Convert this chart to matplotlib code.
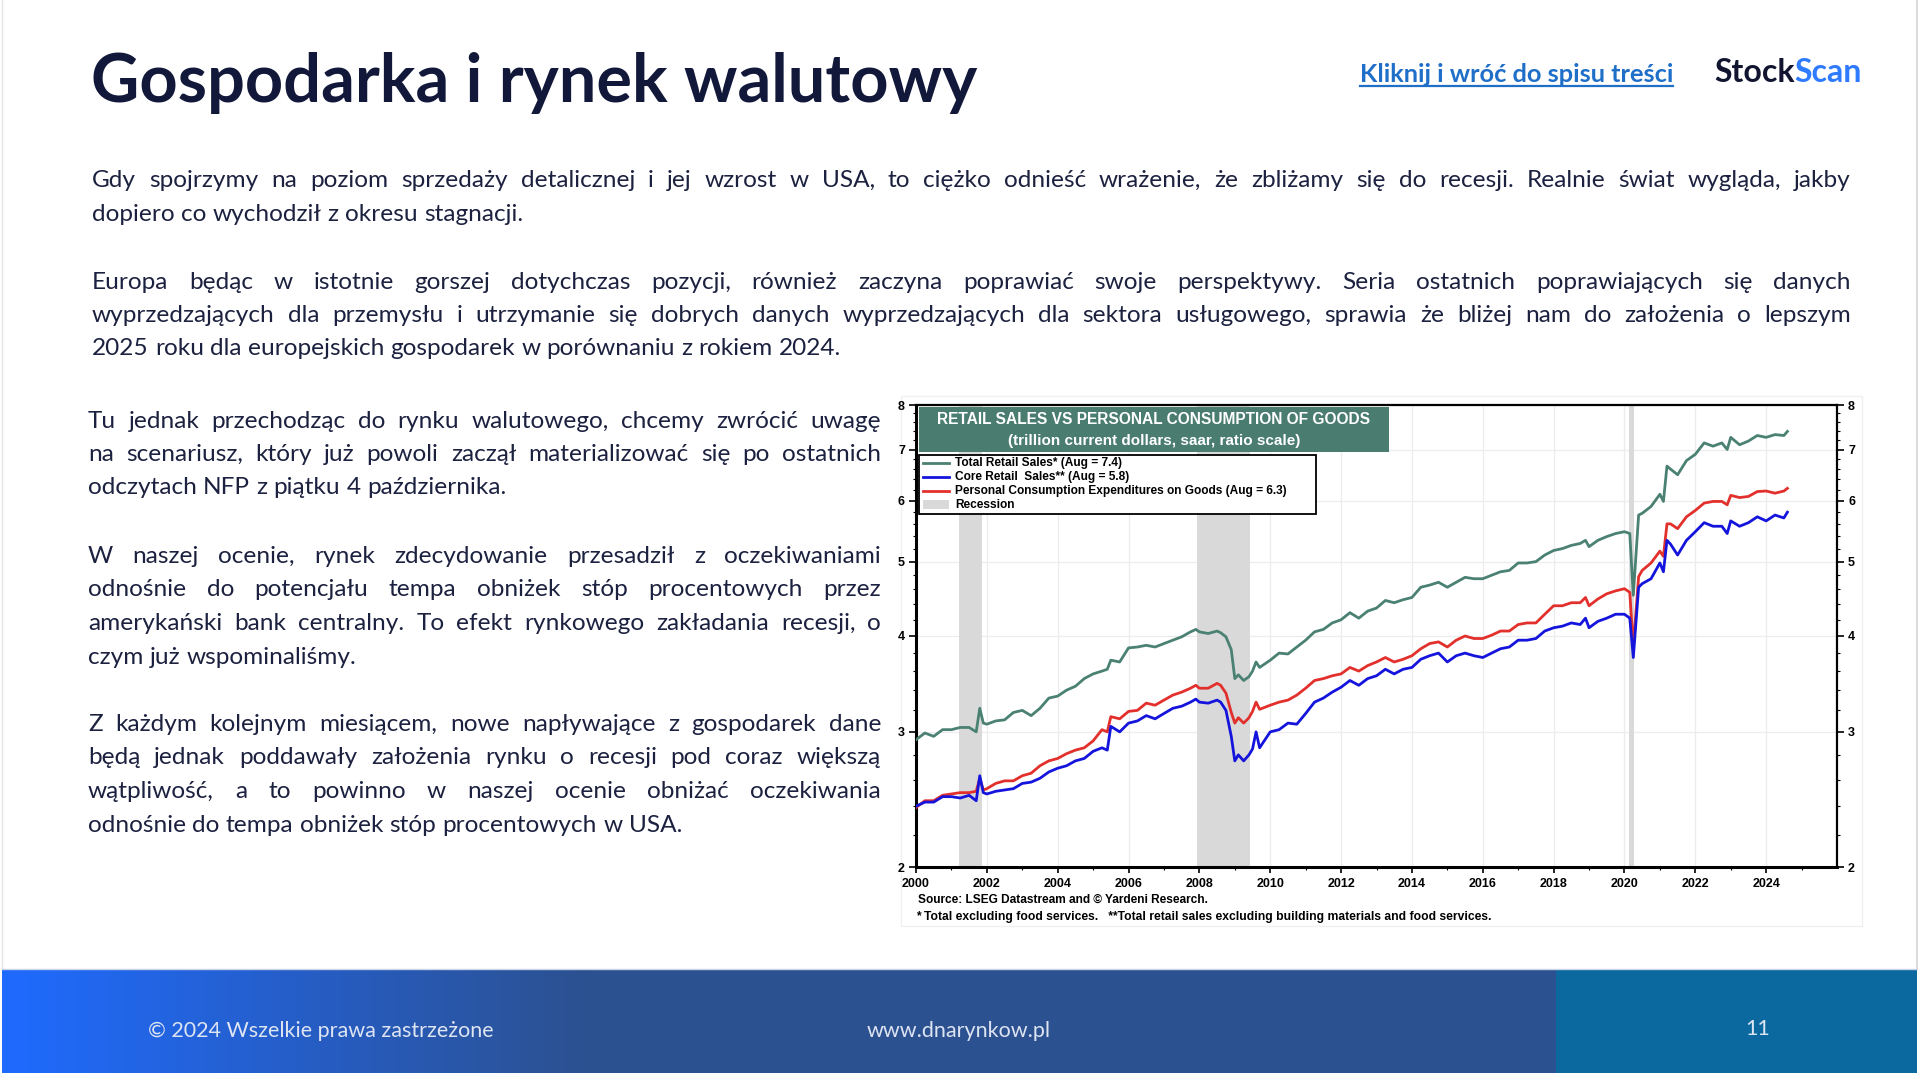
import numpy as np
import matplotlib
matplotlib.use("Agg")
import matplotlib.pyplot as plt
from matplotlib.patches import Rectangle
from matplotlib.lines import Line2D
from matplotlib.ticker import FixedLocator, NullFormatter, FuncFormatter

# --- chart data (trillion $, ratio scale) ---
dates = [2000.0, 2000.25, 2000.5, 2000.75, 2001.0, 2001.25, 2001.5, 2001.7, 2001.8, 2001.9,
         2002.0, 2002.25, 2002.5, 2002.75, 2003.0, 2003.25, 2003.5, 2003.75, 2004.0, 2004.25,
         2004.5, 2004.75, 2005.0, 2005.25, 2005.4, 2005.5, 2005.75, 2006.0, 2006.25, 2006.5,
         2006.75, 2007.0, 2007.25, 2007.5, 2007.75, 2007.9, 2008.0, 2008.25, 2008.5, 2008.6,
         2008.75, 2008.9, 2009.0, 2009.1, 2009.25, 2009.4, 2009.5, 2009.6, 2009.7, 2010.0,
         2010.25, 2010.5, 2010.75, 2011.0, 2011.25, 2011.5, 2011.75, 2012.0, 2012.25, 2012.5,
         2012.75, 2013.0, 2013.25, 2013.5, 2013.75, 2014.0, 2014.25, 2014.5, 2014.75, 2015.0,
         2015.25, 2015.5, 2015.75, 2016.0, 2016.25, 2016.5, 2016.75, 2017.0, 2017.25, 2017.5,
         2017.75, 2018.0, 2018.25, 2018.5, 2018.75, 2018.9, 2019.0, 2019.25, 2019.5, 2019.75,
         2020.0, 2020.15, 2020.25, 2020.4, 2020.5, 2020.75, 2021.0, 2021.1, 2021.2, 2021.3,
         2021.5, 2021.75, 2022.0, 2022.25, 2022.5, 2022.75, 2022.9, 2023.0, 2023.25, 2023.5,
         2023.75, 2024.0, 2024.25, 2024.5, 2024.6]

total_retail = [2.93, 2.99, 2.96, 3.02, 3.02, 3.04, 3.04, 3.00, 3.22, 3.08,
                3.07, 3.10, 3.11, 3.18, 3.20, 3.15, 3.22, 3.32, 3.34, 3.40,
                3.44, 3.52, 3.57, 3.60, 3.62, 3.72, 3.70, 3.86, 3.87, 3.89,
                3.87, 3.91, 3.95, 3.99, 4.05, 4.08, 4.05, 4.03, 4.06, 4.04,
                3.99, 3.84, 3.52, 3.56, 3.50, 3.54, 3.60, 3.70, 3.64, 3.72,
                3.80, 3.79, 3.87, 3.95, 4.05, 4.08, 4.16, 4.20, 4.29, 4.22,
                4.31, 4.35, 4.45, 4.42, 4.46, 4.49, 4.63, 4.66, 4.70, 4.63,
                4.70, 4.77, 4.75, 4.75, 4.80, 4.85, 4.87, 4.98, 4.98, 5.00,
                5.10, 5.17, 5.20, 5.25, 5.28, 5.33, 5.23, 5.33, 5.39, 5.44,
                5.47, 5.44, 4.52, 5.75, 5.78, 5.90, 6.12, 5.99, 6.66, 6.60,
                6.49, 6.77, 6.90, 7.14, 7.07, 7.14, 7.00, 7.26, 7.10, 7.18,
                7.30, 7.26, 7.32, 7.30, 7.39]

core_retail = [2.40, 2.43, 2.43, 2.47, 2.47, 2.46, 2.48, 2.44, 2.63, 2.50,
               2.49, 2.51, 2.52, 2.53, 2.57, 2.58, 2.61, 2.66, 2.69, 2.71,
               2.75, 2.77, 2.83, 2.86, 2.84, 3.05, 3.00, 3.08, 3.10, 3.15,
               3.12, 3.17, 3.22, 3.24, 3.28, 3.31, 3.28, 3.27, 3.30, 3.28,
               3.20, 2.96, 2.75, 2.80, 2.75, 2.80, 2.85, 3.00, 2.86, 3.00,
               3.02, 3.08, 3.07, 3.17, 3.28, 3.32, 3.38, 3.43, 3.50, 3.45,
               3.52, 3.55, 3.62, 3.57, 3.62, 3.64, 3.73, 3.77, 3.80, 3.70,
               3.77, 3.80, 3.77, 3.75, 3.80, 3.85, 3.87, 3.95, 3.95, 3.97,
               4.06, 4.10, 4.12, 4.16, 4.14, 4.22, 4.10, 4.18, 4.22, 4.27,
               4.27, 4.22, 3.75, 4.63, 4.68, 4.75, 4.98, 4.85, 5.33, 5.27,
               5.10, 5.33, 5.47, 5.62, 5.56, 5.56, 5.44, 5.65, 5.56, 5.62,
               5.72, 5.65, 5.75, 5.70, 5.80]

pce_goods = [2.39, 2.44, 2.44, 2.48, 2.49, 2.50, 2.50, 2.51, 2.61, 2.52,
             2.53, 2.57, 2.59, 2.59, 2.63, 2.65, 2.71, 2.75, 2.77, 2.81,
             2.84, 2.86, 2.92, 3.02, 3.00, 3.14, 3.12, 3.19, 3.20, 3.27,
             3.25, 3.30, 3.35, 3.38, 3.42, 3.45, 3.42, 3.42, 3.47, 3.45,
             3.37, 3.18, 3.08, 3.13, 3.08, 3.13, 3.19, 3.28, 3.21, 3.25,
             3.28, 3.30, 3.35, 3.42, 3.50, 3.52, 3.55, 3.57, 3.64, 3.60,
             3.66, 3.70, 3.75, 3.70, 3.73, 3.77, 3.85, 3.91, 3.93, 3.87,
             3.95, 4.00, 3.97, 3.97, 4.01, 4.06, 4.06, 4.14, 4.16, 4.16,
             4.27, 4.38, 4.38, 4.42, 4.42, 4.49, 4.38, 4.47, 4.54, 4.58,
             4.61, 4.56, 3.87, 4.78, 4.87, 4.98, 5.16, 5.08, 5.60, 5.60,
             5.52, 5.72, 5.83, 5.96, 5.99, 5.99, 5.93, 6.10, 6.06, 6.08,
             6.17, 6.18, 6.14, 6.18, 6.23]

rec_start = [2001.2, 2007.92]
rec_end = [2001.85, 2009.42]
covid_rec = [2020.13, 2020.27]

year_ticks = list(range(2000, 2026, 2))
value_ticks = [2, 3, 4, 5, 6, 7, 8]

legend_labels = ["Total Retail Sales* (Aug = 7.4)",
                 "Core Retail  Sales** (Aug = 5.8)",
                 "Personal Consumption Expenditures on Goods (Aug = 6.3)",
                 "Recession"]

# --- page text ---
title = "Gospodarka i rynek walutowy"
intro1 = ["Gdy spojrzymy na poziom sprzedaży detalicznej i jej wzrost w USA, to ciężko odnieść wrażenie, że zbliżamy się do recesji. Realnie świat wygląda, jakby",
          "dopiero co wychodził z okresu stagnacji."]
intro2 = ["Europa będąc w istotnie gorszej dotychczas pozycji, również zaczyna poprawiać swoje perspektywy. Seria ostatnich poprawiających się danych",
          "wyprzedzających dla przemysłu i utrzymanie się dobrych danych wyprzedzających dla sektora usługowego, sprawia że bliżej nam do założenia o lepszym",
          "2025 roku dla europejskich gospodarek w porównaniu z rokiem 2024."]
col1 = ["Tu jednak przechodząc do rynku walutowego, chcemy zwrócić uwagę",
        "na scenariusz, który już powoli zaczął materializować się po ostatnich",
        "odczytach NFP z piątku 4 października."]
col2 = ["W naszej ocenie, rynek zdecydowanie przesadził z oczekiwaniami",
        "odnośnie do potencjału tempa obniżek stóp procentowych przez",
        "amerykański bank centralny. To efekt rynkowego zakładania recesji, o",
        "czym już wspominaliśmy."]
col3 = ["Z każdym kolejnym miesiącem, nowe napływające z gospodarek dane",
        "będą jednak poddawały założenia rynku o recesji pod coraz większą",
        "wątpliwość, a to powinno w naszej ocenie obniżać oczekiwania",
        "odnośnie do tempa obniżek stóp procentowych w USA."]

NAVY = "#121839"
BODY = "#1c2140"
GREEN = "#4a8172"
BLUE = "#1414dc"
RED = "#e2302c"
GREY = "#d9d9d9"
FONT = "Lato"
CHART_FONT = "Liberation Sans"
BODY_SIZE = 17.6

W, H = 1920, 1073
fig = plt.figure(figsize=(W / 100, H / 100), dpi=100)
fig.patch.set_facecolor("white")

bg = fig.add_axes([0, 0, 1, 1])
bg.set_xlim(0, W)
bg.set_ylim(H, 0)
bg.axis("off")
renderer = fig.canvas.get_renderer()

# slide edges
bg.plot([1917, 1917], [0, 968], color="#d4d4d4", lw=1.2)
bg.plot([2, 2], [0, 968], color="#e4e4e4", lw=1.0)

# --- header ---
bg.text(91, 102, title, fontsize=48, fontweight="bold", color=NAVY, family=FONT, va="baseline")
link = bg.text(1360, 82, "Kliknij i wróć do spisu treści", fontsize=18.3, fontweight="bold",
               color="#1f6fc8", family=FONT, va="baseline")
lw_ = link.get_window_extent(renderer).width
bg.plot([1360, 1360 + lw_], [86, 86], color="#1f6fc8", lw=1.6)
st = bg.text(1714, 82, "Stock", fontsize=23, fontweight="bold", color="#111530", family=FONT, va="baseline")
sw = st.get_window_extent(renderer).width
bg.text(1714 + sw, 82, "Scan", fontsize=23, fontweight="bold", color="#2f7bff", family=FONT, va="baseline")


def text_lines(lines, x0, x1, y0, step, size):
    probe = bg.text(0, 0, "x x", fontsize=size, family=FONT)
    probe2 = bg.text(0, 0, "xx", fontsize=size, family=FONT)
    space = probe.get_window_extent(renderer).width - probe2.get_window_extent(renderer).width
    probe.remove()
    probe2.remove()
    for i, line in enumerate(lines):
        y = y0 + i * step
        words = line.split(" ")
        arts = [bg.text(x0, y, w, fontsize=size, color=BODY, family=FONT, va="baseline") for w in words]
        widths = [a.get_window_extent(renderer).width for a in arts]
        if i == len(lines) - 1 or len(words) == 1:
            gap = space
        else:
            gap = (x1 - x0 - sum(widths)) / (len(words) - 1)
        x = x0
        for a, w in zip(arts, widths):
            a.set_x(x)
            x += w + gap


text_lines(intro1, 92, 1851, 187, 34, BODY_SIZE)
text_lines(intro2, 92, 1851, 289, 33.2, BODY_SIZE)
text_lines(col1, 88, 881, 428, 33.1, BODY_SIZE)
text_lines(col2, 88, 881, 563, 33.5, BODY_SIZE)
text_lines(col3, 88, 881, 731, 33.5, BODY_SIZE)

# --- footer ---
bg.add_patch(Rectangle((2, 969), 1915, 104, facecolor="#2c5190", edgecolor="none"))
grad = np.linspace(0, 1, 256)
c0 = np.array([0x1f, 0x6b, 0xff]) / 255
c1 = np.array([0x2c, 0x51, 0x90]) / 255
img = (c0[None, :] * (1 - grad[:, None]) + c1[None, :] * grad[:, None])[None, :, :]
bg.imshow(img, extent=(2, 590, 1073, 969), aspect="auto", interpolation="bilinear", zorder=1)
bg.add_patch(Rectangle((1556, 969), 361, 104, facecolor="#0b69a0", edgecolor="none", zorder=2))
bg.plot([2, 1917], [968.5, 968.5], color="#c9d3e6", lw=1.0, zorder=3)
bg.set_xlim(0, W)
bg.set_ylim(H, 0)
foot_kw = dict(fontsize=15.5, color="#dde4f2", family=FONT, va="center", zorder=4)
bg.text(148, 1031, "© 2024 Wszelkie prawa zastrzeżone", ha="left", **foot_kw)
bg.text(959, 1031, "www.dnarynkow.pl", ha="center", **foot_kw)
bg.text(1758, 1029, "11", ha="center", **foot_kw)

# faint frame of the pasted chart image
bg.add_patch(Rectangle((901, 396), 961, 530, facecolor="none", edgecolor="#f0f0f0", lw=1.0))

# --- chart ---
ax = fig.add_axes([916 / W, (H - 867) / H, 921 / W, 462 / H], zorder=3)
ax.set_yscale("log")
for s, e in zip(rec_start, rec_end):
    ax.axvspan(s, e, color=GREY, lw=0, zorder=1)
ax.axvspan(covid_rec[0], covid_rec[1], color=GREY, lw=0, zorder=1)
ax.plot(dates, total_retail, color=GREEN, lw=2.0, zorder=4)
ax.plot(dates, pce_goods, color=RED, lw=2.0, zorder=4)
ax.plot(dates, core_retail, color=BLUE, lw=2.0, zorder=5)

ax.set_xlim(2000, 2026)
ax.set_ylim(2, 8)
ax.yaxis.set_major_locator(FixedLocator(value_ticks))
ax.yaxis.set_major_formatter(FuncFormatter(lambda v, p: f"{v:g}"))
ax.yaxis.set_minor_locator(FixedLocator(np.arange(2.2, 8, 0.2)))
ax.yaxis.set_minor_formatter(NullFormatter())
ax.xaxis.set_major_locator(FixedLocator(year_ticks))
ax.xaxis.set_minor_locator(FixedLocator(range(2000, 2026)))
ax.grid(True, which="major", color="#ececec", lw=0.9, zorder=0)
ax.set_axisbelow(True)
ax.tick_params(axis="y", which="both", left=True, right=True, labelleft=True, labelright=True,
               direction="out", labelsize=9, pad=3)
ax.tick_params(axis="y", which="major", length=5, width=1.2)
ax.tick_params(axis="y", which="minor", length=2.5, width=0.8)
ax.tick_params(axis="x", which="major", length=4, width=1.2, labelsize=9, pad=4, direction="out")
ax.tick_params(axis="x", which="minor", length=2, width=0.8, direction="out")
for lab in ax.get_xticklabels() + ax.get_yticklabels():
    lab.set_fontweight("bold")
    lab.set_family(CHART_FONT)
for side, w in (("left", 2.2), ("bottom", 2.2), ("top", 1.6), ("right", 1.6)):
    ax.spines[side].set_linewidth(w)
    ax.spines[side].set_color("black")

# --- chart annotations in pixel space ---
ov = fig.add_axes([0, 0, 1, 1], zorder=6)
ov.set_xlim(0, W)
ov.set_ylim(H, 0)
ov.axis("off")
ov.patch.set_alpha(0)

ov.add_patch(Rectangle((919, 407), 470, 45, facecolor="#4a7d70", edgecolor="none"))
ov.text(1154, 419.5, "RETAIL SALES VS PERSONAL CONSUMPTION OF GOODS", ha="center", va="center",
        fontsize=11.2, fontweight="bold", color="white", family=CHART_FONT)
ov.text(1154, 441, "(trillion current dollars, saar, ratio scale)", ha="center", va="center",
        fontsize=11.0, fontweight="bold", color="white", family=CHART_FONT)

ov.add_patch(Rectangle((919, 455), 397, 59, facecolor="white", edgecolor="black", lw=1.3))
row_y = [463, 477, 491, 504.5]
row_col = [GREEN, BLUE, RED]
for yy, c in zip(row_y[:3], row_col):
    ov.add_line(Line2D([923, 949], [yy, yy], color=c, lw=2.0))
ov.add_patch(Rectangle((923, row_y[3] - 4.5), 26, 9, facecolor=GREY, edgecolor="none"))
for yy, lab in zip(row_y, legend_labels):
    ov.text(955, yy, lab, va="center", ha="left", fontsize=8.6, fontweight="bold",
            color="black", family=CHART_FONT)

ov.text(918, 900, "Source: LSEG Datastream and © Yardeni Research.", va="center", ha="left",
        fontsize=8.6, fontweight="bold", color="black", family=CHART_FONT)
ov.text(916, 917, "* Total excluding food services.   **Total retail sales excluding building materials and food services.",
        va="center", ha="left", fontsize=8.7, fontweight="bold", color="black", family=CHART_FONT)

fig.savefig("out.png", dpi=100, facecolor="white")
